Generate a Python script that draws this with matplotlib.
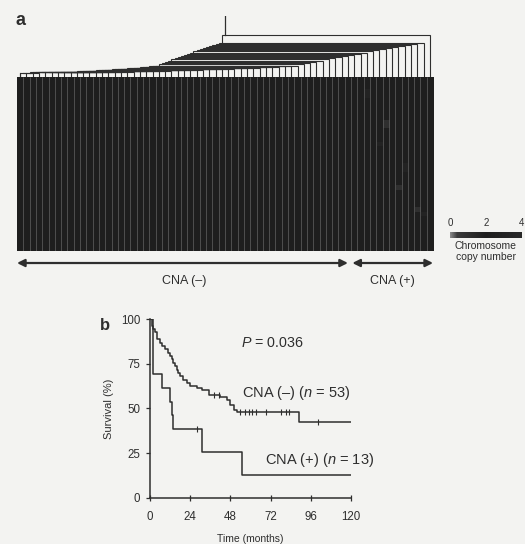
import matplotlib
matplotlib.use("Agg")
import matplotlib.pyplot as plt
import numpy as np
from matplotlib.colors import LinearSegmentedColormap

plt.rcParams['font.family'] = ['Liberation Sans', 'DejaVu Sans']
plt.rcParams['mathtext.fontset'] = 'custom'
plt.rcParams['mathtext.rm'] = 'Liberation Sans'
plt.rcParams['mathtext.it'] = 'Liberation Sans:italic'

INK = '#2e2e2e'
BG = '#f3f3f1'

# ---- panel a data ----
n_neg = 53
n_pos = 13
n_patients = n_neg + n_pos
n_loci = 40
# leaf i joins the cluster of leaves 0..i-1 at this distance (chained tree)
merge_height = [4.2, 4.3, 4.4, 4.5, 4.5, 4.6, 4.7, 4.8, 4.8, 4.9,
                5.0, 5.0, 5.1, 5.2, 5.2, 5.3, 5.4, 5.4, 5.5, 5.6,
                5.8, 6.0, 6.2, 6.4, 6.6, 6.8, 7.0, 7.2, 7.4, 7.6,
                7.8, 8.0, 8.2, 8.4, 8.6, 8.8, 9.0, 9.3, 9.6, 9.9,
                10.2, 10.5, 10.8,
                11.0, 12.5, 14.0, 15.0, 16.0, 17.5, 18.5, 20.0, 21.0, 22.0,
                23.0, 24.0, 25.5, 26.5, 27.5, 28.5, 29.5, 30.5, 31.5, 32.5,
                34.0, 42.0]
root_top = 61
# (locus, patient, copy number) departures from a normal copy number of 2
aberrations = [(3, 55, 3), (4, 55, 3), (10, 58, 1), (11, 58, 1), (20, 61, 3),
               (21, 61, 3), (30, 63, 1), (31, 64, 3), (15, 57, 3), (25, 60, 1)]
cbar_ticks = [0, 2, 4]

# ---- panel b data (Kaplan-Meier) ----
neg_t = [0, 1, 2, 3, 4, 6, 7, 9, 11, 12, 13, 14, 15, 16, 17, 18, 20, 22, 24,
         28, 31, 35, 42, 46, 48, 50, 52, 89, 120]
neg_s = [100, 96.2, 94.3, 92.5, 88.7, 86.8, 84.9, 83.0, 81.1, 79.2, 77.4,
         75.5, 73.6, 71.7, 69.8, 67.9, 66.0, 64.2, 62.3, 61.3, 60.4, 57.5,
         56.6, 54.7, 52.0, 49.1, 48.2, 42.6, 42.6]
neg_cens = [38, 41, 54, 57, 59, 61, 63, 69, 78, 81, 83, 100]
pos_t = [0, 2, 7, 12, 13, 14, 31, 55, 120]
pos_s = [100, 69.2, 61.5, 53.8, 46.2, 38.5, 25.6, 12.8, 12.8]
pos_cens = [28]
time_ticks = [0, 24, 48, 72, 96, 120]
surv_ticks = [0, 25, 50, 75, 100]

fig = plt.figure(figsize=(5.25, 5.44), dpi=100, facecolor=BG)

# heatmap
copy_number = np.full((n_loci, n_patients), 2.0)
for r, c, v in aberrations:
    copy_number[r, c] = v
cmap = LinearSegmentedColormap.from_list(
    'cn', [(0, '#8c8c8c'), (0.1, '#3a3a3a'), (0.5, '#1e1e1e'), (1, '#282828')])
ax_h = fig.add_axes([0.0324, 0.5386, 0.7924, 0.3199])
im = ax_h.imshow(copy_number, cmap=cmap, vmin=0, vmax=4, aspect='auto',
                 extent=(0, n_patients, n_loci, 0), interpolation='nearest')
ax_h.vlines(np.arange(1, n_patients), 0, n_loci, color='#626262', lw=0.5)
ax_h.set_xlim(0, n_patients)
ax_h.set_axis_off()

# group arrows and labels
arrow_kw = dict(arrowstyle='<|-|>', color=INK, lw=1.6, mutation_scale=11,
                shrinkA=0, shrinkB=0)
ax_h.annotate('', xy=(0, -0.069), xytext=(n_neg - 0.5, -0.069),
              xycoords=('data', 'axes fraction'), textcoords=('data', 'axes fraction'),
              arrowprops=arrow_kw)
ax_h.annotate('', xy=(n_neg + 0.2, -0.069), xytext=(n_patients, -0.069),
              xycoords=('data', 'axes fraction'), textcoords=('data', 'axes fraction'),
              arrowprops=arrow_kw)
ax_h.text(n_neg / 2, -0.172, 'CNA (\u2013)', transform=ax_h.get_xaxis_transform(),
          ha='center', va='center', fontsize=9, color=INK)
ax_h.text(n_neg + n_pos / 2, -0.172, 'CNA (+)', transform=ax_h.get_xaxis_transform(),
          ha='center', va='center', fontsize=9, color=INK)

# dendrogram (chained joins)
ax_d = fig.add_axes([0.0324, 0.8585, 0.7924, 0.1121])
leaf_x = np.arange(n_patients) + 0.5
prev_h = 0.0
for i, h in enumerate(merge_height, start=1):
    node_x = leaf_x[:i].mean()
    ax_d.plot([node_x, node_x, leaf_x[i], leaf_x[i]], [prev_h, h, h, 0],
              color=INK, lw=0.8, solid_joinstyle='miter')
    prev_h = h
top_x = leaf_x.mean()
ax_d.plot([top_x, top_x], [prev_h, root_top], color=INK, lw=0.9)
ax_d.plot([leaf_x[0], leaf_x[0]], [0, merge_height[0]], color=INK, lw=0.8)
ax_d.set_xlim(0, n_patients)
ax_d.set_ylim(0, root_top)
ax_d.set_axis_off()

# colour key
cax = fig.add_axes([0.857, 0.5625, 0.137, 0.011])
cb = fig.colorbar(im, cax=cax, orientation='horizontal', ticks=cbar_ticks)
cb.outline.set_visible(False)
cax.xaxis.set_ticks_position('top')
cax.tick_params(length=0, pad=3, labelsize=7, colors=INK)
cax.text(0.5, -0.5, 'Chromosome\ncopy number', transform=cax.transAxes,
         ha='center', va='top', fontsize=7.5, color=INK, linespacing=1.1)

fig.text(0.029, 0.963, 'a', fontsize=13, fontweight='bold', color=INK,
         ha='left', va='center')
fig.text(0.19, 0.402, 'b', fontsize=12, fontweight='bold', color=INK,
         ha='left', va='center')

# Kaplan-Meier panel
ax = fig.add_axes([0.2857, 0.0846, 0.3829, 0.329])
ax.set_facecolor(BG)
ax.step(neg_t, neg_s, where='post', color=INK, lw=1.1)
ax.step(pos_t, pos_s, where='post', color=INK, lw=1.1)


def surv_at(times, surv, t):
    return surv[np.searchsorted(times, t, side='right') - 1]


ax.plot(neg_cens, [surv_at(neg_t, neg_s, t) for t in neg_cens], ls='none',
        marker='|', ms=4, mew=0.8, color=INK)
ax.plot(pos_cens, [surv_at(pos_t, pos_s, t) for t in pos_cens], ls='none',
        marker='|', ms=4, mew=0.8, color=INK)

ax.set_xlim(0, 120)
ax.set_ylim(0, 100)
ax.set_xticks(time_ticks)
ax.set_yticks(surv_ticks)
for s in ['top', 'right']:
    ax.spines[s].set_visible(False)
for s in ['left', 'bottom']:
    ax.spines[s].set_color(INK)
    ax.spines[s].set_linewidth(1.1)
ax.tick_params(axis='x', direction='inout', length=5, width=0.9, pad=7,
               labelsize=8.3, colors=INK)
ax.tick_params(axis='y', direction='out', length=3, width=0.9, pad=4,
               labelsize=8.3, colors=INK)
ax.set_xlabel('Time (months)', fontsize=7.5, color=INK, labelpad=8)
ax.set_ylabel('Survival (%)', fontsize=8, color=INK, labelpad=5)

ax.text(73, 86.6, '$P$ = 0.036', ha='center', va='center', fontsize=10.3, color=INK)
ax.text(54.7, 58.6, 'CNA (\u2013) ($n$ = 53)', ha='left', va='center',
        fontsize=10.5, color=INK)
ax.text(68.6, 21.2, 'CNA (+) ($n$ = 13)', ha='left', va='center',
        fontsize=10.5, color=INK)

fig.savefig('out.png', dpi=100, facecolor=BG)
